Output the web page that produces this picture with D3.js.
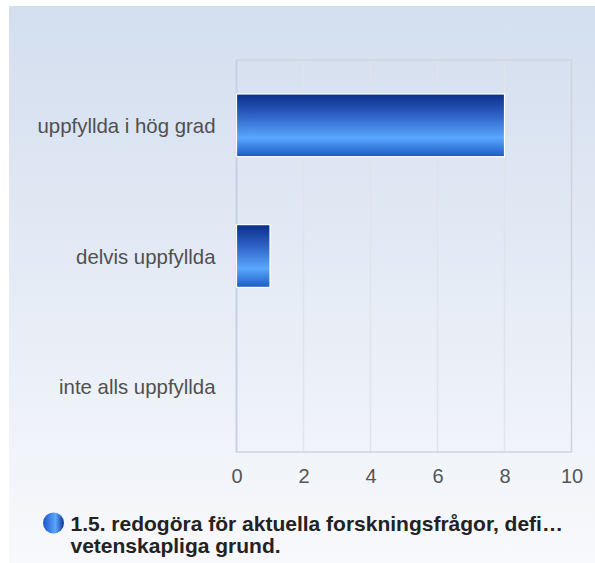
<!DOCTYPE html>
<meta charset="utf-8">
<style>
body { margin: 0; background: #fff; }
svg { display: block; font-family: "Liberation Sans", Arial, sans-serif; }
.grid line { stroke: #dfe3ea; stroke-width: 1.5px; }
.xaxis text { fill: #555; font-size: 20px; }
.yaxis text { fill: #505050; font-size: 20.4px; }
</style>
<svg width="595" height="563"></svg>
<script src="https://d3js.org/d3.v7.min.js"></script>
<script>

// data
var categories = ["uppfyllda i hög grad", "delvis uppfyllda", "inte alls uppfyllda"];
var values = [8, 1, 0];
var xTicks = [0, 2, 4, 6, 8, 10];
var legendLines = ["1.5. redogöra för aktuella forskningsfrågor, defi…", "vetenskapliga grund."];

var svg = d3.select("svg"),
    width = +svg.attr("width"),
    height = +svg.attr("height");

var defs = svg.append("defs");

// panel background
var bg = defs.append("linearGradient").attr("id", "bg")
    .attr("x1", 0).attr("y1", 0).attr("x2", 0).attr("y2", 1);
bg.append("stop").attr("offset", "0%").attr("stop-color", "#d3deef");
bg.append("stop").attr("offset", "100%").attr("stop-color", "#f8f9fc");

// bar fill
var bar = defs.append("linearGradient").attr("id", "bar")
    .attr("x1", 0).attr("y1", 0).attr("x2", 0).attr("y2", 1);
bar.append("stop").attr("offset", "0%").attr("stop-color", "#0a2d8a");
bar.append("stop").attr("offset", "35%").attr("stop-color", "#2f63c6");
bar.append("stop").attr("offset", "70%").attr("stop-color", "#5aa7ff");
bar.append("stop").attr("offset", "100%").attr("stop-color", "#1a5bc4");

var dot = defs.append("linearGradient").attr("id", "dot")
    .attr("x1", 0).attr("y1", 0).attr("x2", 1).attr("y2", 0);
dot.append("stop").attr("offset", "0%").attr("stop-color", "#1d55cc");
dot.append("stop").attr("offset", "60%").attr("stop-color", "#5aa7ff");
dot.append("stop").attr("offset", "100%").attr("stop-color", "#0c3294");

svg.append("rect")
    .attr("x", 9).attr("y", 6)
    .attr("width", width - 9).attr("height", height - 6)
    .attr("fill", "url(#bg)");

var plotL = 236.5, plotR = 571.5, plotT = 60, plotB = 452;

var x = d3.scaleLinear().domain([0, 10]).range([plotL, plotR]);
var y = d3.scaleBand().domain(categories).range([plotT, plotB]).paddingInner(0.52).paddingOuter(0.26);

// grid
svg.append("g").attr("class", "grid")
    .selectAll("line").data(xTicks.slice(1, -1)).enter().append("line")
    .attr("x1", function(d) { return x(d); }).attr("x2", function(d) { return x(d); })
    .attr("y1", plotT).attr("y2", plotB);

// plot frame
svg.append("rect")
    .attr("x", plotL).attr("y", plotT)
    .attr("width", plotR - plotL).attr("height", plotB - plotT)
    .attr("fill", "none").attr("stroke", "#cfd4dc").attr("stroke-width", 1.5);
svg.append("line")
    .attr("x1", plotL).attr("x2", plotL).attr("y1", plotT).attr("y2", plotB)
    .attr("stroke", "#c3cfe6").attr("stroke-width", 1.5);

// bars
svg.append("g").selectAll("rect").data(values).enter().append("rect")
    .filter(function(d) { return d > 0; })
    .attr("x", x(0))
    .attr("y", function(d, i) { return y(categories[i]); })
    .attr("width", function(d) { return x(d) - x(0); })
    .attr("height", y.bandwidth())
    .attr("fill", "url(#bar)")
    .attr("stroke", "#ffffff")
    .attr("stroke-width", 1.2);

// x axis labels
var xa = svg.append("g").attr("class", "xaxis")
    .attr("transform", "translate(0," + 483 + ")")
    .call(d3.axisBottom(x).tickValues(xTicks).tickSize(0).tickPadding(0));
xa.select(".domain").remove();
xa.selectAll("text").attr("dy", 0);

// y axis labels
var ya = svg.append("g").attr("class", "yaxis")
    .attr("transform", "translate(" + 215.5 + ",0)")
    .call(d3.axisLeft(y).tickSize(0).tickPadding(0));
ya.select(".domain").remove();
ya.selectAll("text").attr("dy", "0.38em");

// legend
svg.append("circle")
    .attr("cx", 53.5).attr("cy", 523).attr("r", 10.5)
    .attr("fill", "url(#dot)");

svg.append("g").selectAll("text").data(legendLines).enter().append("text")
    .attr("x", 70.5)
    .attr("y", function(d, i) { return 531 + i * 22; })
    .attr("fill", "#222")
    .style("font-size", "21px")
    .style("font-weight", "bold")
    .text(function(d) { return d; });

</script>
